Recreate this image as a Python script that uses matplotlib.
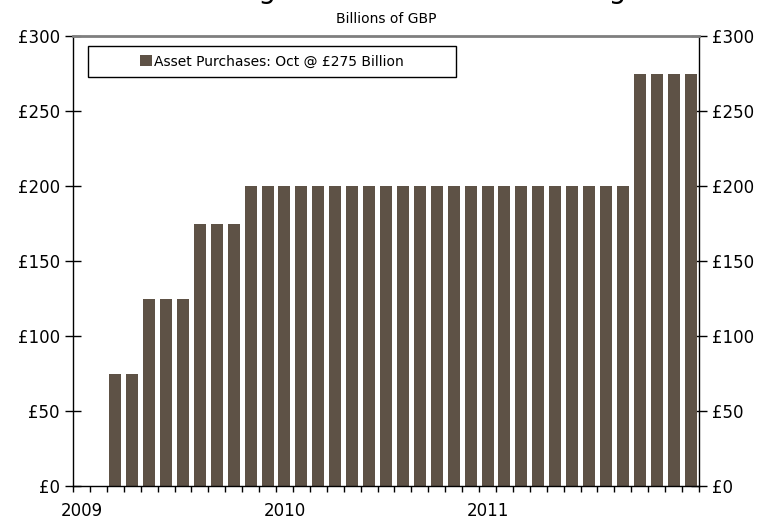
import matplotlib
matplotlib.use("Agg")
import matplotlib.pyplot as plt
from matplotlib.patches import Rectangle, Patch

# Data: monthly cumulative asset purchase target (billions GBP), Jan 2009 - Jan 2012
months = (["2009-%02d" % m for m in range(1, 13)] +
          ["2010-%02d" % m for m in range(1, 13)] +
          ["2011-%02d" % m for m in range(1, 13)] +
          ["2012-01"])
values = ([0, 0, 75, 75, 125, 125, 125, 175, 175, 175] +
          [200] * 23 +
          [275] * 4)
year_labels = ["2009", "2010", "2011"]
year_months = ["2009-01", "2010-01", "2011-01"]
yticks = [0, 50, 100, 150, 200, 250, 300]
title = "Bank of England Asset Purchase Program"
subtitle = "Billions of GBP"
legend_label = "Asset Purchases: Oct @ \u00a3275 Billion"

bar_color = "#5E5246"

W, H = 767, 519
fig = plt.figure(figsize=(W / 100, H / 100), dpi=100)
L, R, T, B = 73, 699, 36, 486
ax = fig.add_axes([L / W, 1 - B / H, (R - L) / W, (B - T) / H])

x = list(range(len(months)))
ax.bar(x, values, width=0.71, color=bar_color, zorder=2)

ax.set_xlim(-0.5, len(months) - 0.5)
ax.set_ylim(0, 300)

# y axis both sides
ax.set_yticks(yticks)
ax.set_yticklabels(["\u00a3%d" % v for v in yticks])
ax.tick_params(axis="y", which="major", direction="inout", length=11, width=1,
               labelsize=12, left=True, right=True, labelleft=True, labelright=True,
               pad=4, colors="black")

# x axis: boundary ticks + year labels
ax.set_xticks([i - 0.5 for i in range(len(months) + 1)])
ax.set_xticklabels([])
ax.tick_params(axis="x", which="major", direction="out", length=4, width=1, color="black")
ax.set_xticks([months.index(m) for m in year_months], minor=True)
ax.set_xticklabels(year_labels, minor=True)
ax.tick_params(axis="x", which="minor", length=0, labelsize=12, pad=11.5)

for s in ["left", "right", "bottom"]:
    ax.spines[s].set_color("black")
    ax.spines[s].set_linewidth(1)
ax.spines["top"].set_color("#7f7f7f")
ax.spines["top"].set_linewidth(2)

# legend
box_x0 = (88 - L) / (R - L)
box_x1 = (456 - L) / (R - L)
box_y0 = (B - 77) / (B - T)
box_y1 = (B - 46) / (B - T)
ax.add_patch(Rectangle((box_x0, box_y0), box_x1 - box_x0, box_y1 - box_y0,
                       transform=ax.transAxes, facecolor="white", edgecolor="black",
                       linewidth=1, zorder=5))
leg = ax.legend([Patch(facecolor=bar_color)], [legend_label], loc="center",
                bbox_to_anchor=((box_x0 + box_x1) / 2, (box_y0 + box_y1) / 2),
                frameon=False, fontsize=10, handlelength=0.85, handleheight=0.85,
                handletextpad=0.2, borderpad=0)
leg.set_zorder(6)

cx = ((L + R) / 2) / W
fig.text(395 / W, 1 + 2 / H, title, ha="center", va="baseline", fontsize=20)
fig.text(cx, 1 - 19 / H, subtitle, ha="center", va="center", fontsize=10)

fig.savefig("out.png", dpi=100)
